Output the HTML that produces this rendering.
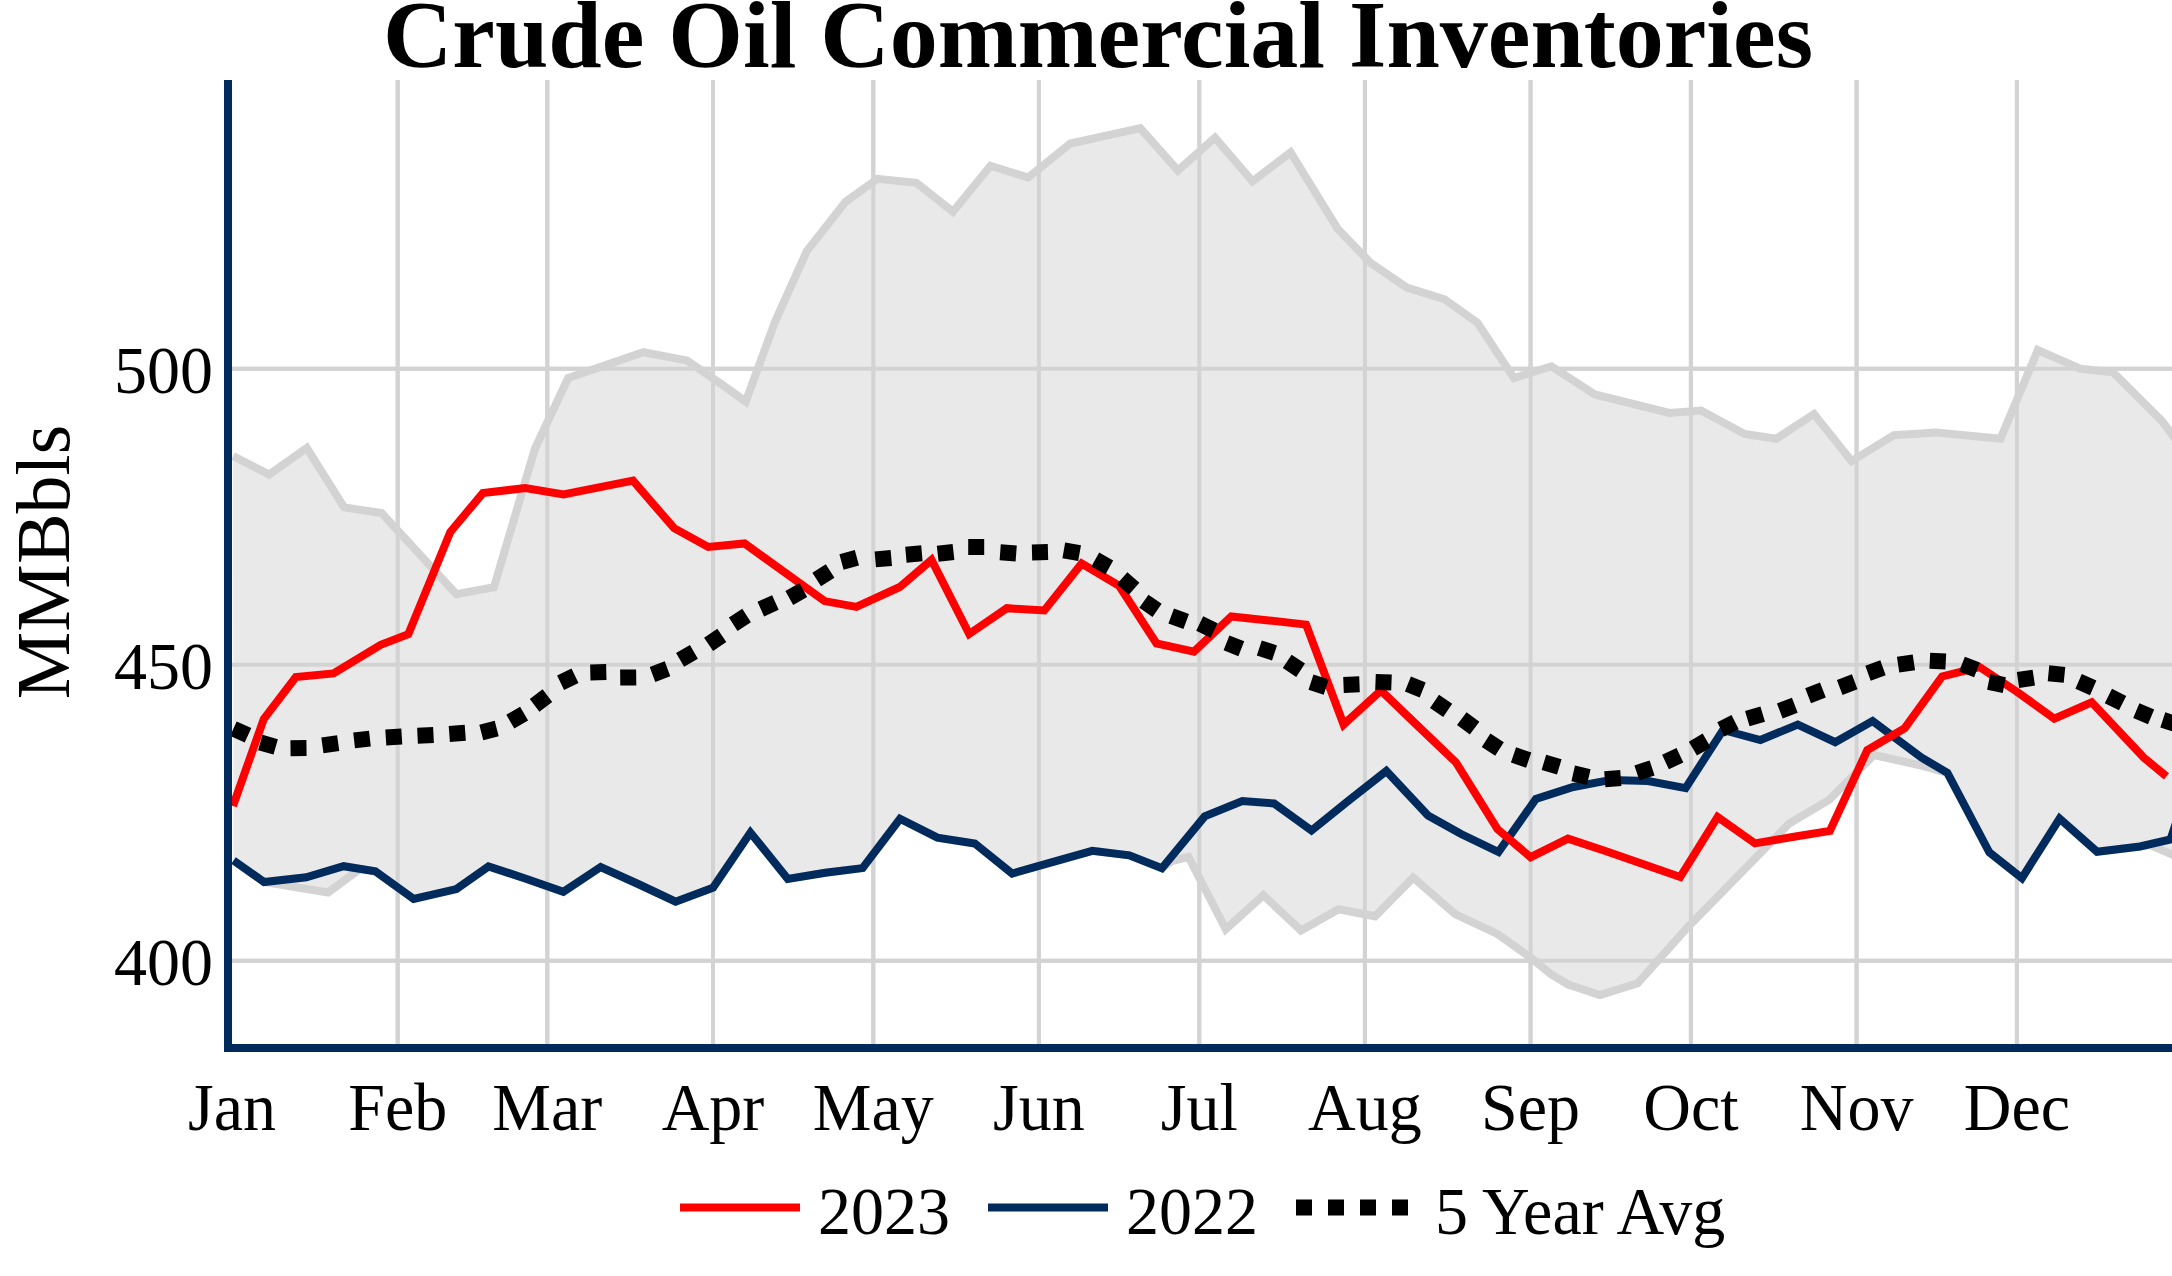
<!DOCTYPE html>
<html><head><meta charset="utf-8"><style>
html,body{margin:0;padding:0;background:#fff;overflow:hidden}
svg{display:block}
text{font-family:"Liberation Serif",serif}
</style></head><body>
<svg width="2172" height="1276" viewBox="0 0 2172 1276">
<rect width="2172" height="1276" fill="#fff"/>
<defs><clipPath id="pc"><rect x="232" y="80" width="1940" height="964"/></clipPath></defs>
<g stroke="#d3d3d3" stroke-width="4"><line x1="397.7" y1="80" x2="397.7" y2="1044" /><line x1="547.3" y1="80" x2="547.3" y2="1044" /><line x1="713.0" y1="80" x2="713.0" y2="1044" /><line x1="873.3" y1="80" x2="873.3" y2="1044" /><line x1="1038.9" y1="80" x2="1038.9" y2="1044" /><line x1="1199.3" y1="80" x2="1199.3" y2="1044" /><line x1="1364.9" y1="80" x2="1364.9" y2="1044" /><line x1="1530.6" y1="80" x2="1530.6" y2="1044" /><line x1="1690.9" y1="80" x2="1690.9" y2="1044" /><line x1="1856.6" y1="80" x2="1856.6" y2="1044" /><line x1="2016.9" y1="80" x2="2016.9" y2="1044" /><line x1="232" y1="368.8" x2="2172" y2="368.8" /><line x1="232" y1="664.8" x2="2172" y2="664.8" /><line x1="232" y1="960.8" x2="2172" y2="960.8" /></g>
<g clip-path="url(#pc)">
<polygon points="233.1,456.1 269.1,474.6 306.8,448.0 344.2,507.4 381.6,513.1 456.4,594.2 493.9,587.3 535.0,448.5 568.2,378.0 643.4,352.2 686.9,360.4 721.0,383.9 745.7,401.6 775.1,321.6 806.8,251.1 845.6,201.7 877.6,178.8 916.4,182.8 952.9,211.7 990.5,165.8 1028.1,177.6 1070.4,143.5 1140.3,128.2 1177.9,170.5 1215.0,137.6 1252.5,181.4 1290.6,152.3 1337.6,228.7 1370.5,262.8 1406.9,287.5 1444.6,299.3 1477.5,322.8 1513.9,378.0 1551.5,366.3 1595.0,394.5 1669.4,412.9 1701.1,410.5 1744.6,434.0 1776.4,438.7 1814.0,414.0 1851.6,461.1 1893.9,435.2 1936.2,432.4 2000.5,438.8 2037.8,350.0 2080.7,368.8 2113.1,372.3 2162.5,421.7 2190.0,459.0 2190.0,860.0 2172.0,854.5 2150.0,845.0 2140.0,846.5 2097.1,851.7 2059.6,818.5 2021.9,878.1 1989.4,852.5 1947.4,772.8 1922.5,765.8 1873.9,755.0 1829.2,799.9 1789.2,823.5 1685.8,929.3 1637.6,983.3 1599.9,995.1 1568.2,984.5 1550.6,974.0 1530.6,957.5 1497.4,934.0 1455.1,914.0 1413.2,877.6 1375.1,916.3 1338.7,909.3 1301.0,930.5 1263.4,895.2 1225.8,929.3 1188.5,856.8 1172.0,861.0 1161.9,868.3 1129.3,855.3 1092.3,850.9 1049.6,862.8 1012.2,873.5 974.8,843.5 937.4,837.6 900.0,818.8 862.6,868.1 825.2,872.8 787.8,879.0 750.4,832.6 713.0,887.8 675.6,901.7 638.1,884.0 600.7,867.0 563.3,891.8 525.9,878.7 488.5,866.4 456.4,889.1 413.7,899.0 375.3,871.3 360.0,869.0 328.0,892.5 264.1,882.0 233.5,860.5" fill="#e9e9e9" stroke="none"/>
<g stroke="#d3d3d3" stroke-width="4"><line x1="397.7" y1="80" x2="397.7" y2="1044" /><line x1="547.3" y1="80" x2="547.3" y2="1044" /><line x1="713.0" y1="80" x2="713.0" y2="1044" /><line x1="873.3" y1="80" x2="873.3" y2="1044" /><line x1="1038.9" y1="80" x2="1038.9" y2="1044" /><line x1="1199.3" y1="80" x2="1199.3" y2="1044" /><line x1="1364.9" y1="80" x2="1364.9" y2="1044" /><line x1="1530.6" y1="80" x2="1530.6" y2="1044" /><line x1="1690.9" y1="80" x2="1690.9" y2="1044" /><line x1="1856.6" y1="80" x2="1856.6" y2="1044" /><line x1="2016.9" y1="80" x2="2016.9" y2="1044" /><line x1="232" y1="368.8" x2="2172" y2="368.8" /><line x1="232" y1="664.8" x2="2172" y2="664.8" /><line x1="232" y1="960.8" x2="2172" y2="960.8" /></g>
<polyline points="233.1,456.1 269.1,474.6 306.8,448.0 344.2,507.4 381.6,513.1 456.4,594.2 493.9,587.3 535.0,448.5 568.2,378.0 643.4,352.2 686.9,360.4 721.0,383.9 745.7,401.6 775.1,321.6 806.8,251.1 845.6,201.7 877.6,178.8 916.4,182.8 952.9,211.7 990.5,165.8 1028.1,177.6 1070.4,143.5 1140.3,128.2 1177.9,170.5 1215.0,137.6 1252.5,181.4 1290.6,152.3 1337.6,228.7 1370.5,262.8 1406.9,287.5 1444.6,299.3 1477.5,322.8 1513.9,378.0 1551.5,366.3 1595.0,394.5 1669.4,412.9 1701.1,410.5 1744.6,434.0 1776.4,438.7 1814.0,414.0 1851.6,461.1 1893.9,435.2 1936.2,432.4 2000.5,438.8 2037.8,350.0 2080.7,368.8 2113.1,372.3 2162.5,421.7 2190.0,459.0" fill="none" stroke="#d3d3d3" stroke-width="8" stroke-linejoin="miter"/>
<polyline points="233.5,860.5 264.1,882.0 328.0,892.5 360.0,869.0 375.3,871.3 413.7,899.0 456.4,889.1 488.5,866.4 525.9,878.7 563.3,891.8 600.7,867.0 638.1,884.0 675.6,901.7 713.0,887.8 750.4,832.6 787.8,879.0 825.2,872.8 862.6,868.1 900.0,818.8 937.4,837.6 974.8,843.5 1012.2,873.5 1049.6,862.8 1092.3,850.9 1129.3,855.3 1161.9,868.3 1172.0,861.0 1188.5,856.8 1225.8,929.3 1263.4,895.2 1301.0,930.5 1338.7,909.3 1375.1,916.3 1413.2,877.6 1455.1,914.0 1497.4,934.0 1530.6,957.5 1550.6,974.0 1568.2,984.5 1599.9,995.1 1637.6,983.3 1685.8,929.3 1789.2,823.5 1829.2,799.9 1873.9,755.0 1922.5,765.8 1947.4,772.8 1989.4,852.5 2021.9,878.1 2059.6,818.5 2097.1,851.7 2140.0,846.5 2150.0,845.0 2172.0,854.5 2190.0,860.0" fill="none" stroke="#d3d3d3" stroke-width="8" stroke-linejoin="miter"/>
<polyline points="233.5,860.5 264.1,882.0 306.3,877.3 343.6,866.2 375.3,871.3 413.7,899.0 456.4,889.1 488.5,866.4 525.9,878.7 563.3,891.8 600.7,867.0 638.1,884.0 675.6,901.7 713.0,887.8 750.4,832.6 787.8,879.0 825.2,872.8 862.6,868.1 900.0,818.8 937.4,837.6 974.8,843.5 1012.2,873.5 1049.6,862.8 1092.3,850.9 1129.3,855.3 1161.9,868.3 1204.7,816.4 1242.3,801.1 1274.1,803.5 1311.5,830.5 1348.9,800.4 1386.3,771.0 1428.0,815.5 1461.1,834.0 1498.5,852.0 1535.9,799.0 1573.3,787.0 1610.8,779.9 1648.2,781.0 1685.6,788.1 1723.0,730.0 1760.4,740.0 1797.8,724.6 1835.2,742.2 1872.6,721.0 1921.3,757.5 1947.4,772.8 1989.4,852.5 2021.9,878.1 2059.6,818.5 2097.1,851.7 2140.0,846.5 2170.5,839.5 2206.0,733.0" fill="none" stroke="#002b5c" stroke-width="8" stroke-linejoin="miter"/>
<polyline points="233.0,806.0 263.7,719.2 295.8,677.0 333.5,673.4 380.7,644.8 408.3,634.2 450.3,532.0 482.9,493.1 525.2,488.1 563.5,494.5 633.0,480.7 674.1,528.2 708.2,547.0 744.6,543.5 824.5,601.1 856.3,606.9 899.8,587.0 931.5,559.9 969.2,634.0 1006.9,608.2 1044.3,610.5 1081.7,563.5 1119.1,585.8 1156.5,643.4 1193.9,651.7 1231.3,616.4 1268.7,620.4 1306.1,624.6 1343.6,724.5 1381.0,690.5 1418.4,726.5 1455.8,762.2 1497.5,829.2 1530.6,857.2 1568.0,838.6 1605.4,851.0 1642.8,864.0 1680.2,877.0 1717.6,817.0 1755.0,843.4 1792.4,837.0 1829.9,831.0 1867.3,750.0 1904.7,728.1 1942.1,676.4 1979.5,667.0 2016.9,691.7 2054.3,718.7 2091.7,702.3 2143.7,757.6 2166.5,776.4" fill="none" stroke="#ff0000" stroke-width="8" stroke-linejoin="miter"/>
<path d="M233.4,728.7L248.0,735.3M260.3,742.5L275.7,746.9M290.5,748.3L306.5,748.1M322.4,745.3L338.2,743.1M354.1,740.4L369.9,738.6M385.8,737.4L401.8,736.4M417.5,735.7L433.5,734.9M449.3,734.0L465.3,732.8M481.3,732.6L496.7,728.6M510.3,721.6L524.1,713.6M534.6,705.3L547.4,695.7M560.6,682.7L575.0,675.7M590.3,672.4L606.3,672.0M620.2,677.6L636.2,677.4M652.5,674.4L667.5,668.8M680.1,659.9L693.9,651.9M708.6,644.4L721.8,635.4M733.2,624.2L746.6,615.6M760.8,609.1L775.4,602.5M789.3,597.9L803.3,590.1M816.7,579.5L830.1,570.9M841.5,562.0L856.9,557.8M875.3,559.4L891.3,558.0M905.9,554.7L921.9,553.3M937.7,553.8L953.5,552.0M968.2,547.0L984.2,547.0M1000.2,552.3L1016.2,553.5M1032.0,552.4L1048.0,552.0M1063.8,550.3L1079.6,553.1M1095.3,559.6L1109.3,567.4M1122.1,578.2L1134.1,588.8M1143.9,601.2L1157.1,610.4M1171.2,615.9L1186.2,621.5M1199.7,623.5L1214.1,630.5M1226.5,642.9L1241.3,648.7M1259.3,648.0L1274.5,653.0M1287.2,661.4L1300.6,670.2M1311.0,682.1L1326.2,687.1M1343.5,684.9L1359.5,684.3M1375.5,682.0L1391.5,682.6M1407.9,684.0L1422.7,690.0M1434.5,701.3L1447.7,710.3M1461.8,718.6L1474.6,728.2M1486.1,740.3L1499.5,748.9M1513.5,754.9L1528.7,760.1M1543.9,762.3L1559.3,766.9M1573.2,773.4L1588.8,777.0M1604.8,779.3L1620.8,778.1M1636.9,773.0L1652.1,768.0M1665.5,762.1L1679.9,755.3M1692.9,748.7L1706.7,740.5M1720.9,729.4L1735.1,722.2M1747.3,718.7L1762.7,714.1M1779.8,711.0L1794.8,705.2M1808.1,695.8L1822.9,690.0M1839.7,687.4L1854.7,681.8M1868.0,673.2L1883.0,667.8M1898.1,664.7L1913.9,662.3M1929.8,660.7L1945.8,661.5M1962.0,664.1L1977.0,669.9M1988.7,681.9L2004.3,685.1M2018.0,680.0L2033.8,677.6M2048.5,673.3L2064.5,674.9M2078.6,681.4L2093.2,687.8M2108.4,696.0L2122.6,703.2M2136.3,710.6L2151.1,716.8M2162.8,719.8L2178.0,724.8" fill="none" stroke="#000" stroke-width="16" stroke-linecap="butt"/>
</g>
<line x1="228" y1="80" x2="228" y2="1052" stroke="#002b5c" stroke-width="8"/>
<line x1="224" y1="1048" x2="2172" y2="1048" stroke="#002b5c" stroke-width="8"/>
<g font-size="66" text-anchor="end" fill="#000">
<text transform="translate(213,393) scale(1,1.03)">500</text><text transform="translate(213,689) scale(1,1.03)">450</text><text transform="translate(213,985) scale(1,1.03)">400</text>
</g>
<g font-size="66" text-anchor="middle" fill="#000"><text transform="translate(232.0,1129.5) scale(1,1.03)">Jan</text><text transform="translate(397.7,1129.5) scale(1,1.03)">Feb</text><text transform="translate(547.3,1129.5) scale(1,1.03)">Mar</text><text transform="translate(713.0,1129.5) scale(1,1.03)">Apr</text><text transform="translate(873.3,1129.5) scale(1,1.03)">May</text><text transform="translate(1038.9,1129.5) scale(1,1.03)">Jun</text><text transform="translate(1199.3,1129.5) scale(1,1.03)">Jul</text><text transform="translate(1364.9,1129.5) scale(1,1.03)">Aug</text><text transform="translate(1530.6,1129.5) scale(1,1.03)">Sep</text><text transform="translate(1690.9,1129.5) scale(1,1.03)">Oct</text><text transform="translate(1856.6,1129.5) scale(1,1.03)">Nov</text><text transform="translate(2016.9,1129.5) scale(1,1.03)">Dec</text></g>
<text transform="translate(69,562) rotate(-90)" font-size="76" text-anchor="middle" fill="#000">MMBbls</text>
<text x="1098" y="67" font-size="96" font-weight="bold" text-anchor="middle" fill="#000">Crude Oil Commercial Inventories</text>
<line x1="680" y1="1207.5" x2="800" y2="1207.5" stroke="#ff0000" stroke-width="8"/>
<text transform="translate(818,1234) scale(1,1.03)" font-size="66" fill="#000">2023</text>
<line x1="988" y1="1207.5" x2="1108" y2="1207.5" stroke="#002b5c" stroke-width="8"/>
<text transform="translate(1126,1234) scale(1,1.03)" font-size="66" fill="#000">2022</text>
<line x1="1296" y1="1207.5" x2="1416" y2="1207.5" stroke="#000" stroke-width="16" stroke-dasharray="16,16"/>
<text transform="translate(1435,1234) scale(1,1.03)" font-size="66" fill="#000">5 Year Avg</text>
</svg>
</body></html>
